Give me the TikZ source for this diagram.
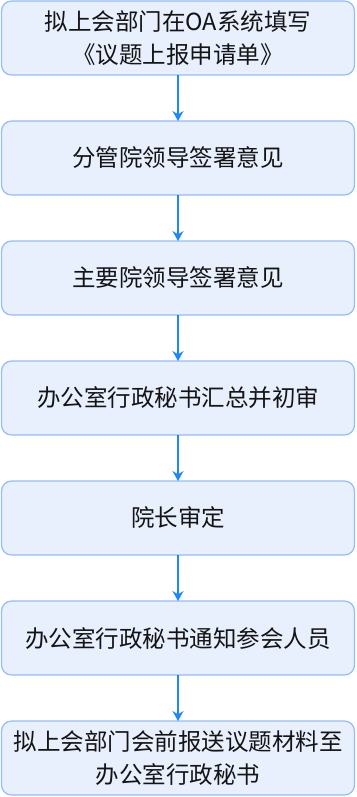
\documentclass[tikz,border=0pt]{standalone}
\usepackage{fontspec}
\setmainfont{Noto Sans CJK SC}
\usepackage{xcolor}
\usepackage{tikz}
\usetikzlibrary{
  arrows.meta,
  positioning
}
\definecolor{FlowBlue}{RGB}{30,136,255}
\definecolor{BoxFill}{RGB}{232,240,254}
\definecolor{BoxLine}{RGB}{146,188,250}
\definecolor{TextBlack}{RGB}{20,20,20}
\tikzset{
  %%── 流程步骤框 ─────────────────────────────
  stepbox/.style = {
    rectangle, rounded corners = 10pt,
    draw = BoxLine, fill = BoxFill, line width = 1.2pt,
    minimum width = 353pt, minimum height = 74pt,
    text width = 350pt, inner sep = 0pt, outer sep = 0pt,
    align = center, text = TextBlack,
    font = \fontsize{23.5}{32.5}\selectfont
  },
  %%── 箭头 ───────────────────────────────────
  arr/.style = {-{Stealth[length=10pt,width=11pt]}, line width = 1.2pt, color = FlowBlue},
}
\begin{document}
\begin{tikzpicture}[node distance = 46pt]

  \useasboundingbox (0,0) rectangle (356pt,-797pt);

  \node[stepbox] (apply) at (178pt,-38pt)
    {拟上会部门在OA系统填写\\《议题上报申请单》};
  \node[stepbox, below=of apply]   (branch) {分管院领导签署意见};
  \node[stepbox, below=of branch]  (chief)  {主要院领导签署意见};
  \node[stepbox, below=of chief]   (review) {办公室行政秘书汇总并初审};
  \node[stepbox, below=of review]  (dean)   {院长审定};
  \node[stepbox, below=of dean]    (notify) {办公室行政秘书通知参会人员};
  \node[stepbox, below=of notify]  (submit)
    {拟上会部门会前报送议题材料至\\办公室行政秘书};

  %% 箭头
  \draw[arr] (apply)  -- (branch);
  \draw[arr] (branch) -- (chief);
  \draw[arr] (chief)  -- (review);
  \draw[arr] (review) -- (dean);
  \draw[arr] (dean)   -- (notify);
  \draw[arr] (notify) -- (submit);

\end{tikzpicture}
\end{document}
